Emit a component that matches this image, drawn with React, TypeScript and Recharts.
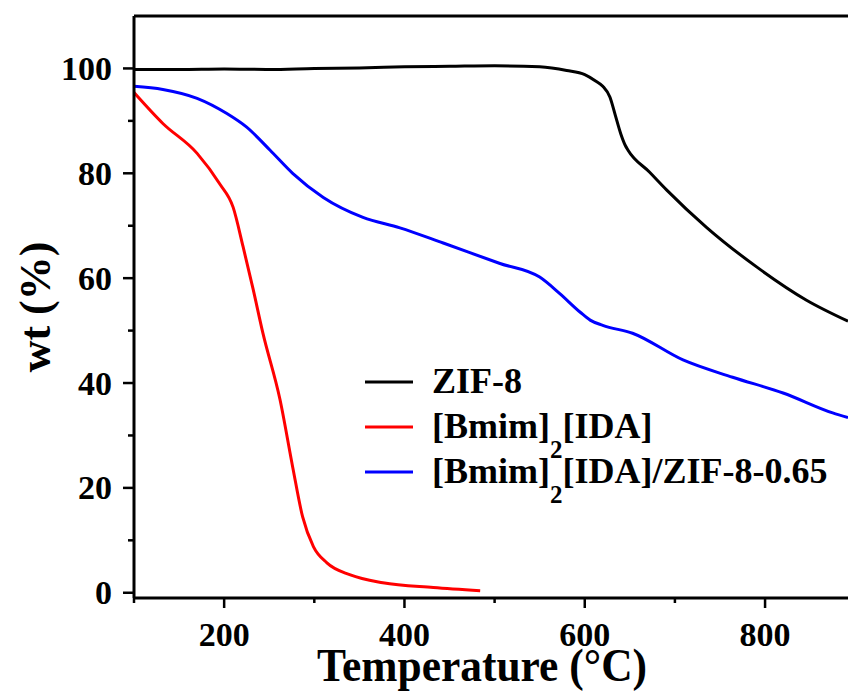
import React from "react"
import { Legend, Line, LineChart, ReferenceLine, XAxis, YAxis } from "recharts"

// TGA curves, temperature in °C and residual mass in %
const zif8Temp = [100, 150, 200, 250, 300, 350, 400, 450, 500, 550, 580, 600, 612, 620, 628, 634, 640, 645, 648, 672, 691, 735, 791, 846, 892]
const zif8Wt = [99.8, 99.8, 99.9, 99.8, 100.0, 100.1, 100.3, 100.4, 100.5, 100.3, 99.6, 98.8, 97.6, 96.6, 94.5, 91.0, 87.5, 85.3, 84.4, 80.2, 76.8, 69.7, 62.1, 55.8, 51.8]

const ilTemp = [100, 132, 170, 195, 210, 221, 232, 243, 262, 276, 287, 299, 314, 340, 376, 432, 484]
const ilWt = [95.4, 89.5, 83.8, 78.0, 73.5, 66.0, 58.0, 49.5, 36.8, 24.0, 14.5, 8.8, 5.7, 3.4, 1.9, 1.0, 0.4]

const compTemp = [100, 132, 170, 203, 225, 251, 276, 310, 354, 395, 443, 506, 550, 572, 595, 606, 620, 653, 709, 764, 820, 875, 892]
const compWt = [96.6, 96.0, 94.3, 91.4, 88.8, 84.4, 80.0, 75.4, 71.6, 69.6, 66.7, 62.8, 60.2, 57.1, 53.5, 52.0, 51.0, 49.5, 44.4, 41.1, 38.1, 34.3, 33.4]

const xTicks = [100, 200, 300, 400, 500, 600, 700, 800]
const yTicks = [0, 10, 20, 30, 40, 50, 60, 70, 80, 90, 100]

const toPoints = (temps: number[], wts: number[]) => temps.map((t, i) => ({ temp: t, wt: wts[i] }))

const FONT = "'Liberation Serif', 'Times New Roman', serif"

const XTick = ({ x, y, payload }: any) => {
  const major = payload.value % 200 === 0
  return (
    <g>
      <line x1={x} x2={x} y1={y} y2={y + (major ? 10 : 5)} stroke="#000" strokeWidth={2.5} />
      {major && (
        <text x={x} y={y + 48} textAnchor="middle" fontFamily={FONT} fontWeight="bold" fontSize={34} fill="#000">
          {payload.value}
        </text>
      )}
    </g>
  )
}

const YTick = ({ x, y, payload }: any) => {
  const major = payload.value % 20 === 0
  return (
    <g>
      <line x1={x} x2={x - (major ? 11 : 6)} y1={y} y2={y} stroke="#000" strokeWidth={2.5} />
      {major && (
        <text x={x - 22} y={y + 11.5} textAnchor="end" fontFamily={FONT} fontWeight="bold" fontSize={34} fill="#000">
          {payload.value}
        </text>
      )}
    </g>
  )
}

const LegendBox = ({ payload }: any) => (
  <svg width={480} height={175} style={{ display: "block", overflow: "visible" }}>
    {(payload || []).map((p: any, i: number) => {
      const cy = 27 + i * 45
      const parts = String(p.value).split("]2[")
      return (
        <g key={p.value}>
          <line x1={0} x2={48} y1={cy} y2={cy} stroke={p.color} strokeWidth={3} />
          <text x={67} y={cy + 11} fontFamily={FONT} fontWeight="bold" fontSize={36} fill="#000">
            {parts.length > 1 ? (
              <>
                <tspan>{parts[0] + "]"}</tspan>
                <tspan y={cy + 31} fontSize={25}>2</tspan>
                <tspan y={cy + 11}>{"[" + parts[1]}</tspan>
              </>
            ) : (
              p.value
            )}
          </text>
        </g>
      )
    })}
  </svg>
)

export default function App() {
  return (
    <div style={{ position: "absolute", left: 0, top: 0, width: 848, height: 691, overflow: "hidden", background: "#fff" }}>
      <LineChart width={848} height={691} margin={{ top: 16, right: 0, bottom: 0, left: 0 }}>
        <XAxis
          type="number"
          dataKey="temp"
          domain={[100, 892]}
          allowDataOverflow
          ticks={xTicks}
          interval={0}
          height={93}
          stroke="#000"
          strokeWidth={3}
          tickLine={false}
          tickSize={0}
          tickMargin={0}
          tick={<XTick />}
          label={{
            content: ({ viewBox }: any) => (
              <text
                x={viewBox.x + viewBox.width / 2 - 9}
                y={viewBox.y + 83}
                textAnchor="middle"
                fontFamily={FONT}
                fontWeight="bold"
                fontSize={47}
                textLength={330}
                lengthAdjust="spacingAndGlyphs"
                fill="#000"
              >
                Temperature (°C)
              </text>
            ),
          }}
        />
        <YAxis
          type="number"
          domain={[-1, 110]}
          allowDataOverflow
          ticks={yTicks}
          interval={0}
          width={134}
          stroke="#000"
          strokeWidth={3}
          tickLine={false}
          tickSize={0}
          tickMargin={0}
          tick={<YTick />}
          label={{
            content: ({ viewBox }: any) => {
              const cx = viewBox.x + 50
              const cy = viewBox.y + viewBox.height / 2
              return (
                <text
                  x={cx}
                  y={cy}
                  transform={`rotate(-90 ${cx} ${cy})`}
                  textAnchor="middle"
                  fontFamily={FONT}
                  fontWeight="bold"
                  fontSize={44}
                  fill="#000"
                >
                  wt (%)
                </text>
              )
            },
          }}
        />
        <ReferenceLine y={110} stroke="#000" strokeWidth={3} />
        <Line data={toPoints(zif8Temp, zif8Wt)} dataKey="wt" name="ZIF-8" type="monotone" stroke="#000000" strokeWidth={3} dot={false} isAnimationActive={false} />
        <Line data={toPoints(ilTemp, ilWt)} dataKey="wt" name="[Bmim]2[IDA]" type="monotone" stroke="#ff0000" strokeWidth={3} dot={false} isAnimationActive={false} />
        <Line data={toPoints(compTemp, compWt)} dataKey="wt" name="[Bmim]2[IDA]/ZIF-8-0.65" type="monotone" stroke="#0000ff" strokeWidth={3} dot={false} isAnimationActive={false} />
        <Legend
          layout="vertical"
          align="center"
          verticalAlign="middle"
          content={<LegendBox />}
          wrapperStyle={{ position: "absolute", left: 365, top: 355, width: 480, height: 175 }}
        />
      </LineChart>
    </div>
  )
}
